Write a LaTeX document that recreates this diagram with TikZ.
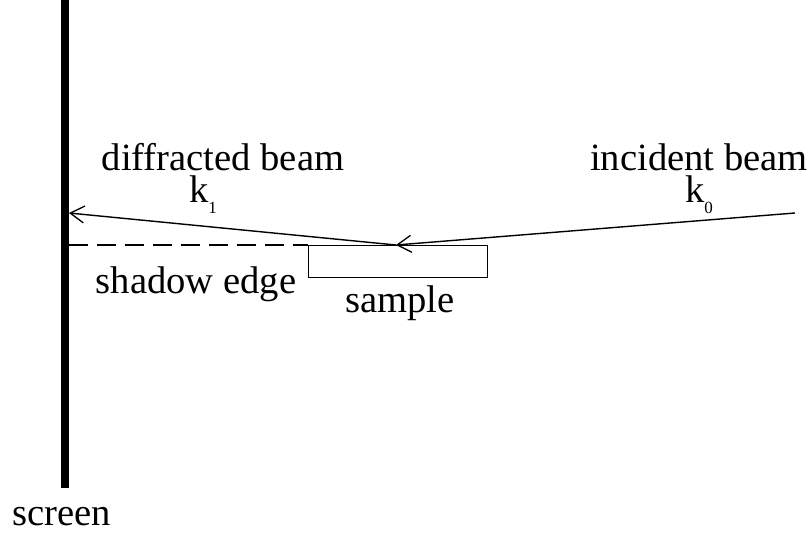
\documentclass[tikz,border=0pt]{standalone}
\usepackage{fontspec}
\setmainfont{Liberation Serif}
\usetikzlibrary{arrows.meta,positioning}

% lowered index for the wave vectors
\newcommand{\wsub}[1]{\raisebox{-0.3em}{\fontsize{17}{17}\selectfont #1}}

\tikzset{
    beam/.style={line width=1.4pt},
    barb/.style={-{Straight Barb[length=14pt,width=17pt,line width=1.3pt]}},
    lbl/.style={anchor=base, inner sep=0pt, align=center, font=\fontsize{38.6}{32}\selectfont}
}

\begin{document}
\begin{tikzpicture}[x=1pt, y=-1pt]
    \useasboundingbox (0,0) rectangle (809,535);

    % screen and sample
    \draw [line width=8pt] (65,0) -- (65,488);
    \node [draw, line width=1.3pt, minimum width=179pt, minimum height=32pt, inner sep=0pt, anchor=north west] (sample) at (308,245) {};

    % points on the beam path
    \coordinate (src) at (795,213);
    \coordinate (hit) at (396,245);
    \coordinate (spot) at (69,213);
    \coordinate (edge) at (69,245);

    % shadow edge
    \draw [line width=1.3pt, dash pattern=on 19pt off 9pt] (edge) -- (sample.north west);

    % incident and diffracted beams
    \draw [beam, barb] (src) -- (hit);
    \draw [beam, barb] (hit) -- (spot);

    % labels (base is the baseline of the last line)
    \node [lbl] (inclbl) at (699,202) {incident beam\\k\wsub{0}};
    \node [lbl] (diflbl) at (223,202) {diffracted beam\\\hspace*{-40pt}k\wsub{1}};
    \node [lbl] (shadowlbl) at (196,293) {shadow edge};
    \node [lbl] (samplelbl) at (400,312) {sample};
    \node [lbl] (screenlbl) at (62,525) {screen};
\end{tikzpicture}
\end{document}
